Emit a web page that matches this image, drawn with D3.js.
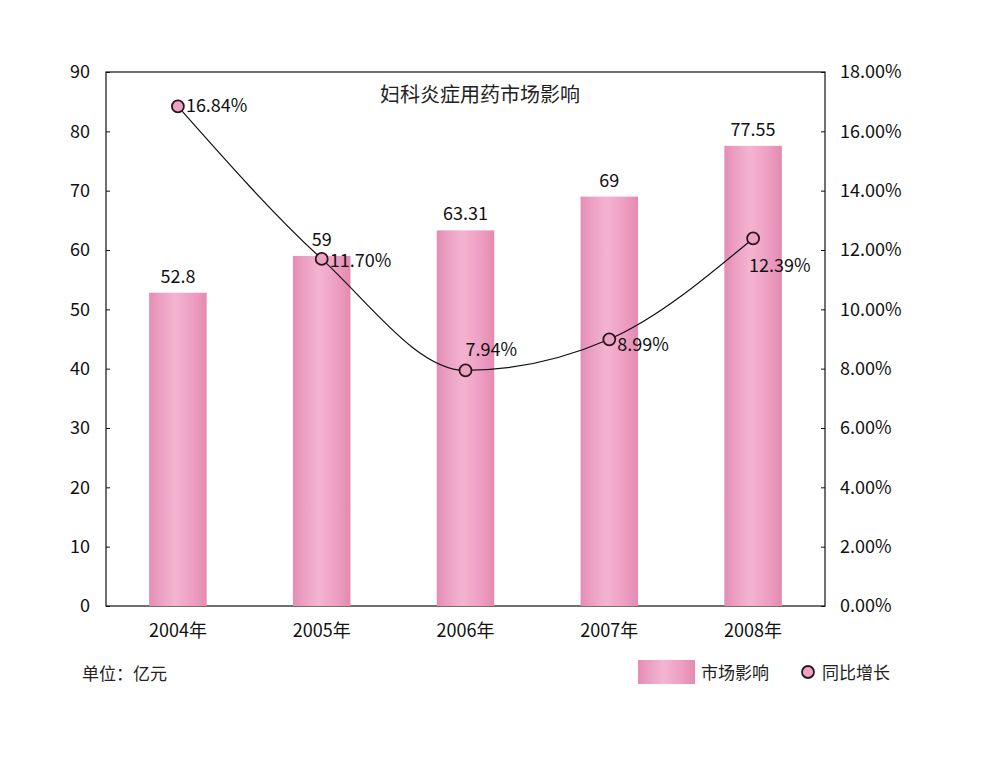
<!DOCTYPE html>
<html><head><meta charset="utf-8">
<script src="https://cdn.jsdelivr.net/npm/d3@7"></script>
<style>body{margin:0;background:#fff;} svg{display:block;}</style>
</head><body>
<svg id="c" width="1000" height="759"></svg>
<script>
const categories = ["2004年","2005年","2006年","2007年","2008年"];
const marketValues = [52.8, 59, 63.31, 69, 77.55];
const marketLabels = ["52.8","59","63.31","69","77.55"];
const growthValues = [16.84, 11.70, 7.94, 8.99, 12.39];
const growthLabels = ["16.84%","11.70%","7.94%","8.99%","12.39%"];
const leftTicks = [0,10,20,30,40,50,60,70,80,90];
const rightTicks = [0,2,4,6,8,10,12,14,16,18];
const title = "妇科炎症用药市场影响";
const unitText = "单位：亿元";
const legendNames = ["市场影响","同比增长"];

const font = "'Comic Sans MS','Noto Sans CJK SC',Lato,sans-serif";
const svg = d3.select("#c");
const m = {l:106, r:825, t:72, b:606};

const x = d3.scaleBand().domain(categories).range([m.l, m.r]).paddingInner(0.6).paddingOuter(0.3);
const y = d3.scaleLinear().domain([0,90]).range([m.b, m.t]);
const y2 = d3.scaleLinear().domain([0,18]).range([m.b, m.t]);

const defs = svg.append("defs");
const g = defs.append("linearGradient").attr("id","barGrad").attr("x1","0").attr("x2","1").attr("y1","0").attr("y2","0");
[[0,"#e58db3"],[0.15,"#ea9cc0"],[0.45,"#f4b4d0"],[0.75,"#ee9fc3"],[1,"#e48ab1"]].forEach(s=>g.append("stop").attr("offset",s[0]).attr("stop-color",s[1]));

// frame
svg.append("rect").attr("x",m.l).attr("y",m.t).attr("width",m.r-m.l).attr("height",m.b-m.t)
  .attr("fill","none").attr("stroke","#111").attr("stroke-width",1.2);

// bars
svg.selectAll("rect.bar").data(marketValues).join("rect").attr("class","bar")
  .attr("x",(d,i)=>x(categories[i])).attr("width",x.bandwidth())
  .attr("y",d=>y(d)).attr("height",d=>m.b-y(d)).attr("fill","url(#barGrad)");

// left axis
const la = svg.append("g").attr("transform",`translate(${m.l},0)`)
  .call(d3.axisLeft(y).tickValues(leftTicks).tickSize(-4).tickPadding(16).tickFormat(d3.format("d")));
la.select(".domain").remove();
la.selectAll("line").attr("stroke","#111");
la.selectAll("text").attr("font-family",font).attr("font-size",18).attr("fill","#111");

// right axis
const ra = svg.append("g").attr("transform",`translate(${m.r},0)`)
  .call(d3.axisRight(y2).tickValues(rightTicks).tickSize(-4).tickPadding(15).tickFormat(d=>d.toFixed(2)+"%"));
ra.select(".domain").remove();
ra.selectAll("line").attr("stroke","#111");
ra.selectAll("text").attr("font-family",font).attr("font-size",18).attr("fill","#111");

// x axis labels
const xa = svg.append("g").attr("transform",`translate(0,${m.b})`)
  .call(d3.axisBottom(x).tickSize(0).tickPadding(18));
xa.select(".domain").remove();
xa.selectAll("text").attr("font-family",font).attr("font-size",18).attr("fill","#111");

// bar value labels
svg.selectAll("text.bl").data(marketValues).join("text").attr("class","bl")
  .attr("x",(d,i)=>x(categories[i])+x.bandwidth()/2).attr("y",d=>y(d)-10)
  .attr("text-anchor","middle").attr("font-family",font).attr("font-size",18).attr("fill","#111")
  .text((d,i)=>marketLabels[i]);

// line
const cx = i => x(categories[i])+x.bandwidth()/2;
const line = d3.line().x((d,i)=>cx(i)).y(d=>y2(d)).curve(d3.curveMonotoneX);
svg.append("path").datum(growthValues).attr("d",line).attr("fill","none").attr("stroke","#111").attr("stroke-width",1.2);
svg.selectAll("circle.pt").data(growthValues).join("circle").attr("class","pt")
  .attr("cx",(d,i)=>cx(i)).attr("cy",d=>y2(d)).attr("r",6)
  .attr("fill","#eba3bf").attr("stroke","#2a1420").attr("stroke-width",1.8);

// growth labels
const off = [[8,6],[8,8],[0,-14],[8,12],[-4,34]];
svg.selectAll("text.gl").data(growthValues).join("text").attr("class","gl")
  .attr("x",(d,i)=>cx(i)+off[i][0]).attr("y",(d,i)=>y2(d)+off[i][1])
  .attr("font-family",font).attr("font-size",18).attr("fill","#111")
  .text((d,i)=>growthLabels[i]);

// title
svg.append("text").attr("x",480).attr("y",102).attr("text-anchor","middle")
  .attr("font-family",font).attr("font-size",20).attr("fill","#222").text(title);

// unit
svg.append("text").attr("x",82).attr("y",680).attr("font-family",font).attr("font-size",17).attr("fill","#222").text(unitText);

// legend
svg.append("rect").attr("x",638).attr("y",660).attr("width",57).attr("height",24).attr("fill","url(#barGrad)");
svg.append("text").attr("x",701).attr("y",679).attr("font-family",font).attr("font-size",17).attr("fill","#222").text(legendNames[0]);
svg.append("circle").attr("cx",808).attr("cy",672).attr("r",6).attr("fill","#eba3bf").attr("stroke","#2a1420").attr("stroke-width",1.8);
svg.append("text").attr("x",822).attr("y",679).attr("font-family",font).attr("font-size",17).attr("fill","#222").text(legendNames[1]);
</script>
</body></html>
